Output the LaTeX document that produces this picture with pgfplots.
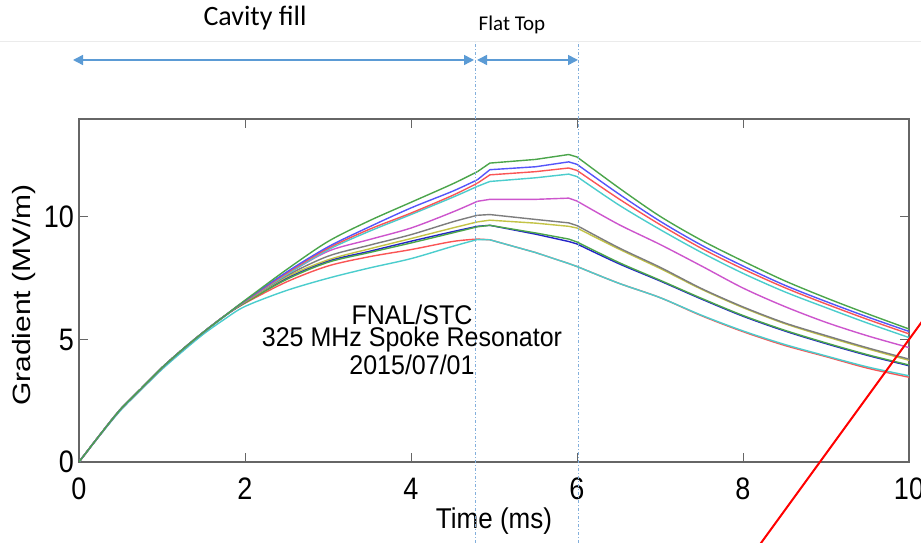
\documentclass[border=0pt]{standalone}
\usepackage{fontspec}
\setmainfont{Liberation Sans}
\newfontfamily\calibri{Carlito}
\usepackage{pgfplots}
\usepackage{pgfplotstable}
\pgfplotsset{compat=1.18}
\usetikzlibrary{arrows.meta}

\definecolor{mgreen}{RGB}{75,165,75}
\definecolor{mblue}{RGB}{85,85,250}
\definecolor{mred}{RGB}{250,85,85}
\definecolor{mcyan}{RGB}{75,205,205}
\definecolor{mmag}{RGB}{205,85,205}
\definecolor{mgray}{RGB}{125,125,125}
\definecolor{myel}{RGB}{195,195,70}
\definecolor{mdblue}{RGB}{35,35,200}
\definecolor{arrowblue}{RGB}{91,155,213}
\definecolor{dotblue}{RGB}{130,175,220}

\pgfplotstableread{
t    g1    b1    r1    c1    m     k     y     b2    g2    rl    cl
0    0     0     0     0     0     0     0     0     0     0     0
0.25 1.1   1.1   1.1   1.1   1.1   1.1   1.1   1.1   1.1   1.1   1.08
0.5  2.15  2.15  2.15  2.15  2.15  2.15  2.15  2.15  2.15  2.15  2.1
0.75 3.0   3.0   3.0   3.0   3.0   3.0   3.0   3.0   3.0   3.0   2.95
1.0  3.85  3.85  3.85  3.85  3.85  3.85  3.85  3.85  3.85  3.85  3.78
1.25 4.6   4.6   4.6   4.6   4.6   4.6   4.6   4.6   4.6   4.6   4.52
1.5  5.3   5.3   5.3   5.3   5.3   5.3   5.3   5.3   5.3   5.3   5.22
1.75 5.95  5.95  5.95  5.95  5.95  5.95  5.95  5.95  5.95  5.95  5.82
2.0  6.6   6.58  6.56  6.56  6.58  6.55  6.54  6.52  6.5   6.48  6.35
2.5  7.85  7.75  7.7   7.65  7.65  7.6   7.55  7.5   7.45  7.35  7.0
3.0  9.0   8.78  8.72  8.66  8.6   8.4   8.25  8.2   8.15  8.0   7.5
3.5  9.85  9.6   9.5   9.42  9.08  8.85  8.7   8.6   8.55  8.38  7.92
4.0  10.6  10.37 10.16 10.1  9.55  9.28  9.12  9.01  8.94  8.67  8.3
4.5  11.35 11.05 10.88 10.8  10.2  9.8   9.55  9.4   9.35  9.0   8.8
4.8  11.85 11.52 11.38 11.25 10.64 10.07 9.8   9.62  9.6   9.1   9.08
4.95 12.2  11.93 11.72 11.45 10.72 10.1  9.87  9.66  9.66  9.07  9.07
5.5  12.35 12.05 11.85 11.6  10.72 9.9   9.75  9.3   9.35  8.55  8.55
5.9  12.55 12.25 12.0  11.75 10.77 9.76  9.62  9.0   9.1   8.1   8.1
6.0  12.45 12.15 11.9  11.65 10.65 9.65  9.55  8.9   8.98  7.98  7.98
6.5  11.2  10.95 10.75 10.5  9.7   8.75  8.7   8.1   8.15  7.3   7.3
7.0  10.03 9.83  9.69  9.49  8.88  7.95  7.9   7.39  7.42  6.71  6.71
7.5  9.05  8.85  8.72  8.55  8.0   7.08  7.05  6.65  6.68  5.97  5.99
8.0  8.2   8.0   7.88  7.7   7.1   6.33  6.3   5.95  5.98  5.32  5.35
8.5  7.4   7.22  7.12  6.95  6.35  5.68  5.65  5.35  5.38  4.76  4.8
9.0  6.7   6.55  6.45  6.3   5.7   5.16  5.12  4.83  4.86  4.3   4.33
9.5  6.05  5.92  5.82  5.67  5.15  4.66  4.62  4.35  4.38  3.83  3.88
10.0 5.43  5.33  5.23  5.08  4.67  4.2   4.15  3.93  3.96  3.46  3.52
}\grad

\newcommand\curve[2]{%
  \addplot[#1, smooth, tension=0.5] table[x=t,y=#2, restrict x to domain=0:4.81]{\grad};
  \addplot[#1] table[x=t,y=#2, restrict x to domain=4.79:6.01]{\grad};
  \addplot[#1, smooth, tension=0.5] table[x=t,y=#2, restrict x to domain=5.99:10.01]{\grad};
}

\begin{document}
\begin{tikzpicture}[x=1pt,y=1pt]
\useasboundingbox (0,0) rectangle (921,543);
\clip (0,0) rectangle (921,543);
\fill[white] (0,0) rectangle (921,543);
\draw[black!8, line width=1pt] (0,501) -- (921,501);
\begin{axis}[
  at={(79pt,81pt)}, anchor=south west,
  width=830pt, height=343pt, scale only axis,
  xmin=0, xmax=10, ymin=0, ymax=14,
  xtick={0,2,4,6,8,10}, ytick={0,5,10},
  tick align=inside, major tick length=9pt,
  axis line style={draw=black!60, line width=1.3pt},
  tick style={draw=black!60, line width=1pt},
  /pgf/number format/assume math mode=true,
  ticklabel style={font=\fontsize{27}{30}\selectfont},
  xticklabel={\scalebox{1}[1.15]{\pgfmathprintnumber{\tick}}},
  yticklabel={\scalebox{1}[1.15]{\pgfmathprintnumber{\tick}}},
  xticklabel style={anchor=center, yshift=-27pt},
  yticklabel style={anchor=east, inner sep=0pt, xshift=-5pt},
  xlabel={\scalebox{1}[1.1]{Time (ms)}},
  xlabel style={font=\fontsize{26}{30}\selectfont, at={(axis description cs:0.5,-0.172)}, anchor=center},
  ylabel={\scalebox{1.2}[1]{Gradient (MV/m)}},
  ylabel style={font=\fontsize{25}{30}\selectfont, at={(axis description cs:-0.066,0.487)}, anchor=center, rotate=0},
  every axis plot/.append style={line width=1.4pt},
]
\curve{mred}{rl}
\curve{mcyan}{cl}
\curve{mdblue}{b2}
\curve{mgreen}{g2}
\curve{myel}{y}
\curve{mgray}{k}
\curve{mmag}{m}
\curve{mcyan}{c1}
\curve{mred}{r1}
\curve{mblue}{b1}
\curve{mgreen}{g1}
\end{axis}
\draw[dotblue, line width=0.8pt, dash pattern=on 3pt off 2pt on 1pt off 2pt] (475,0) -- (475,501);
\draw[dotblue, line width=0.8pt, dash pattern=on 3pt off 2pt on 1pt off 2pt] (578,0) -- (578,501);
\draw[arrowblue, line width=1.5pt, {Triangle[length=10pt,width=10pt]}-{Triangle[length=10pt,width=10pt]}] (73,483) -- (474,483);
\draw[arrowblue, line width=1.5pt, {Triangle[length=10pt,width=10pt]}-{Triangle[length=10pt,width=10pt]}] (477,483) -- (578,483);
\node[font=\calibri\fontsize{28}{30}\selectfont] at (255,524.5) {Cavity fill};
\node[font=\calibri\fontsize{21}{24}\selectfont] at (512,518) {Flat Top};
\node[font=\fontsize{25}{25}\selectfont, inner sep=0pt] at (412,228) {\scalebox{1}[1.08]{FNAL/STC}};
\node[font=\fontsize{25}{25}\selectfont, inner sep=0pt] at (412,203) {\scalebox{1}[1.08]{325 MHz Spoke Resonator}};
\node[font=\fontsize{25}{25}\selectfont, inner sep=0pt] at (412,178) {\scalebox{1}[1.08]{2015/07/01}};
\draw[red, line width=2pt] (935,239.25) -- (755,-8.25);
\end{tikzpicture}
\end{document}
